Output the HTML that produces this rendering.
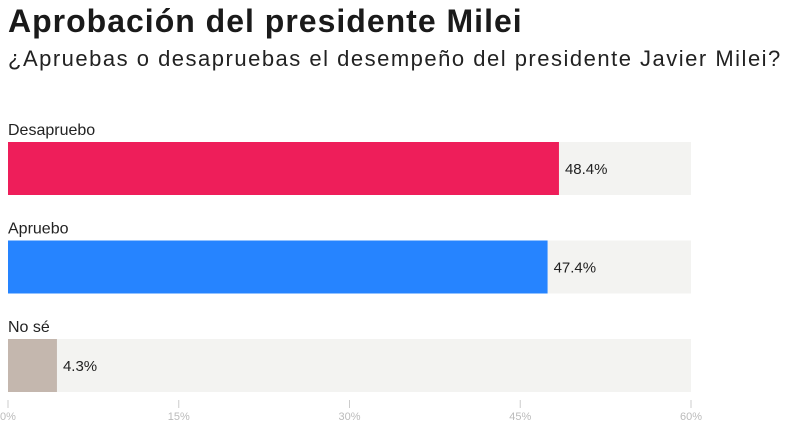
<!DOCTYPE html>
<html><head><meta charset="utf-8"><style>
body{margin:0;width:800px;height:426px;background:#fff;font-family:"Liberation Sans",sans-serif;overflow:hidden;position:relative}
#title{position:absolute;left:8px;top:3px;font-size:32px;font-weight:bold;color:#1a1a1a;letter-spacing:1px;white-space:nowrap}
#sub{position:absolute;left:8px;top:46px;font-size:22px;color:#222;letter-spacing:1.5px;white-space:nowrap}
</style></head><body>
<div id="title">Aprobación del presidente Milei</div>
<div id="sub">¿Apruebas o desapruebas el desempeño del presidente Javier Milei?</div>
<svg id="chart" width="800" height="426" style="position:absolute;left:0;top:0"></svg>
<script>
const categories=["Desapruebo","Apruebo","No sé"];
const values=[48.4,47.4,4.3];
const colors=["#ee1e5a","#2684ff","#c4b7ae"];
const ticks=[0,15,30,45,60];
const tickLabels=["0%","15%","30%","45%","60%"];
const svg=document.getElementById('chart');const NS="http://www.w3.org/2000/svg";
const x0=8,x1=691,max=60;
const xs=v=>x0+(x1-x0)*v/max;
function mk(t,a){const e=document.createElementNS(NS,t);for(const k in a)e.setAttribute(k,a[k]);svg.appendChild(e);return e;}
categories.forEach((c,i)=>{
 const top=142+i*98.5;
 const l=mk('text',{x:8,y:top-7,'font-size':16,fill:'#222'});l.textContent=c;
 
 
 const bg=mk('rect',{x:x0,y:top,width:xs(max)-x0,height:53,fill:'#f3f3f1'});
 
 
 const b=mk('rect',{x:x0,y:top,width:xs(values[i])-x0,height:53,fill:colors[i]});
 
 
 const v=mk('text',{x:xs(values[i])+6,y:top+32,'font-size':15,fill:'#222'});v.textContent=values[i].toFixed(1)+'%';
 
 
});
ticks.forEach((t,i)=>{
 const ln=mk('line',{x1:xs(t),x2:xs(t),y1:400,y2:408,stroke:'#ccc'});
 
 
 const tx=mk('text',{x:xs(t),y:420,'font-size':11,fill:'#bbb','text-anchor':'middle'});tx.textContent=tickLabels[i];
 
 
});
</script>
</body></html>
